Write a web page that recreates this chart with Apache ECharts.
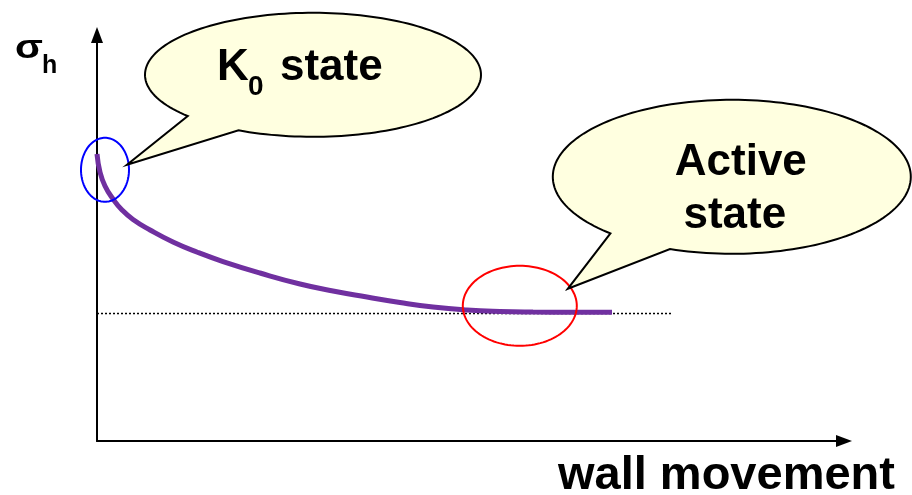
<!DOCTYPE html>
<html>
<head>
<meta charset="utf-8">
<script src="https://cdn.jsdelivr.net/npm/echarts@6/dist/echarts.min.js"></script>
<style>
  html, body { margin: 0; padding: 0; background: #ffffff; }
  #chart { width: 912px; height: 495px; }
</style>
</head>
<body>
<div id="chart"></div>
<script>
// Horizontal stress versus wall movement (schematic units, 0-100 on both axes)
const wallMovement = [0, 0.40, 1.07, 2.14, 3.35, 4.82, 7.10, 10.17, 13.52, 16.87, 21.82, 27.18, 31.59, 36.14, 40.56, 44.98, 49.53, 53.95, 58.37, 63.32, 68.94];
const sigmaH       = [70.69, 66.26, 62.81, 59.61, 56.90, 54.56, 51.97, 49.01, 46.43, 44.21, 41.38, 38.67, 36.95, 35.47, 34.11, 33.00, 32.27, 31.90, 31.75, 31.70, 31.70];

// Limiting (active) stress level drawn as a dotted reference line
const activeLevel = 31.4;
const activeLineX = [0, 77];

// Highlighted states on the curve: [wall movement, sigma_h]
const k0Point = [1.07, 66.8];
const activePoint = [56.6, 33.3];

const FONT = "'Liberation Sans', Arial, Helvetica, sans-serif";
const BUBBLE_FILL = '#FFFFE0';

const chart = echarts.init(document.getElementById('chart'), null, { renderer: 'canvas' });

const axisLineStyle = {
  show: true,
  onZero: false,
  symbol: ['none', 'triangle'],
  symbolSize: [12, 16],
  lineStyle: { color: '#000000', width: 2 }
};

chart.setOption({
  animation: false,
  backgroundColor: '#ffffff',
  grid: { left: 97, right: 68, top: 35, bottom: 54, containLabel: false },
  xAxis: {
    type: 'value', min: 0, max: 100,
    axisLine: axisLineStyle,
    axisTick: { show: false }, axisLabel: { show: false }, splitLine: { show: false }
  },
  yAxis: {
    type: 'value', min: 0, max: 100,
    axisLine: axisLineStyle,
    axisTick: { show: false }, axisLabel: { show: false }, splitLine: { show: false }
  },
  series: [
    {
      name: 'active level',
      type: 'line',
      data: activeLineX.map(x => [x, activeLevel]),
      symbol: 'none',
      lineStyle: { color: '#000000', width: 1.5, type: [2, 2] },
      z: 1
    },
    {
      name: 'sigma_h',
      type: 'line',
      data: wallMovement.map((x, i) => [x, sigmaH[i]]),
      symbol: 'none',
      smooth: 0.5,
      lineStyle: { color: '#7030A0', width: 5 },
      z: 2
    }
  ]
});

// Sample an ellipse outline as polygon points
function ellipsePoints(cx, cy, rx, ry) {
  const pts = [];
  for (let d = 0; d < 360; d += 3) {
    const t = d * Math.PI / 180;
    pts.push([cx + rx * Math.cos(t), cy + ry * Math.sin(t)]);
  }
  return pts;
}

// Speech bubble: ellipse with a pointed tail between two angles (degrees, screen space)
function bubblePoints(cx, cy, rx, ry, gapFrom, gapTo, tip) {
  const pts = [tip];
  for (let d = gapFrom; d >= gapTo - 360; d -= 2) {
    const t = d * Math.PI / 180;
    pts.push([cx + rx * Math.cos(t), cy + ry * Math.sin(t)]);
  }
  const tEnd = (gapTo - 360) * Math.PI / 180;
  pts.push([cx + rx * Math.cos(tEnd), cy + ry * Math.sin(tEnd)]);
  return pts;
}

function drawAnnotations() {
  const k0 = chart.convertToPixel({ gridIndex: 0 }, k0Point);
  const act = chart.convertToPixel({ gridIndex: 0 }, activePoint);

  const k0Bubble = { cx: k0[0] + 208, cy: k0[1] - 95, rx: 168, ry: 62 };
  const k0Tip = [k0[0] + 22, k0[1] - 5];
  const actBubble = { cx: act[0] + 212, cy: act[1] - 129, rx: 179, ry: 77 };
  const actTip = [act[0] + 48, act[1] - 17];

  const textStyle = (size) => ({ fill: '#000000', font: 'bold ' + size + 'px ' + FONT, verticalAlign: 'middle' });

  chart.setOption({
    graphic: [
      // state markers on the curve
      { type: 'polygon', z: 20, shape: { points: ellipsePoints(k0[0], k0[1], 24, 32) },
        style: { fill: 'none', stroke: '#0000FF', lineWidth: 2 } },
      { type: 'polygon', z: 20, shape: { points: ellipsePoints(act[0], act[1], 57, 40) },
        style: { fill: 'none', stroke: '#FF0000', lineWidth: 2 } },

      // callouts
      { type: 'polygon', z: 21,
        shape: { points: bubblePoints(k0Bubble.cx, k0Bubble.cy, k0Bubble.rx, k0Bubble.ry, 116.3, 138.2, k0Tip) },
        style: { fill: BUBBLE_FILL, stroke: '#000000', lineWidth: 2, lineJoin: 'miter' } },
      { type: 'polygon', z: 21,
        shape: { points: bubblePoints(actBubble.cx, actBubble.cy, actBubble.rx, actBubble.ry, 110.2, 132.7, actTip) },
        style: { fill: BUBBLE_FILL, stroke: '#000000', lineWidth: 2, lineJoin: 'miter' } },

      // callout texts
      { type: 'text', z: 22, x: k0Bubble.cx - 96, y: k0Bubble.cy - 7,
        style: Object.assign({ text: 'K', align: 'left' }, textStyle(44)) },
      { type: 'text', z: 22, x: k0Bubble.cx - 65, y: k0Bubble.cy + 12,
        style: Object.assign({ text: '0', align: 'left' }, textStyle(28)) },
      { type: 'text', z: 22, x: k0Bubble.cx - 33, y: k0Bubble.cy - 7,
        style: Object.assign({ text: 'state', align: 'left' }, textStyle(44)) },
      { type: 'text', z: 22, x: actBubble.cx + 9, y: actBubble.cy - 14,
        style: Object.assign({ text: 'Active', align: 'center' }, textStyle(44)) },
      { type: 'text', z: 22, x: actBubble.cx + 3, y: actBubble.cy + 39,
        style: Object.assign({ text: 'state', align: 'center' }, textStyle(44)) },

      // axis names
      { type: 'text', z: 22, x: 15, y: 49, scaleX: 1.2,
        style: Object.assign({ text: 'σ', align: 'left' }, textStyle(34)) },
      { type: 'text', z: 22, x: 42, y: 66,
        style: Object.assign({ text: 'h', align: 'left' }, textStyle(25)) },
      { type: 'text', z: 22, x: 558, y: 476,
        style: Object.assign({ text: 'wall movement', align: 'left' }, textStyle(47)) }
    ]
  });
}

drawAnnotations();
</script>
</body>
</html>
